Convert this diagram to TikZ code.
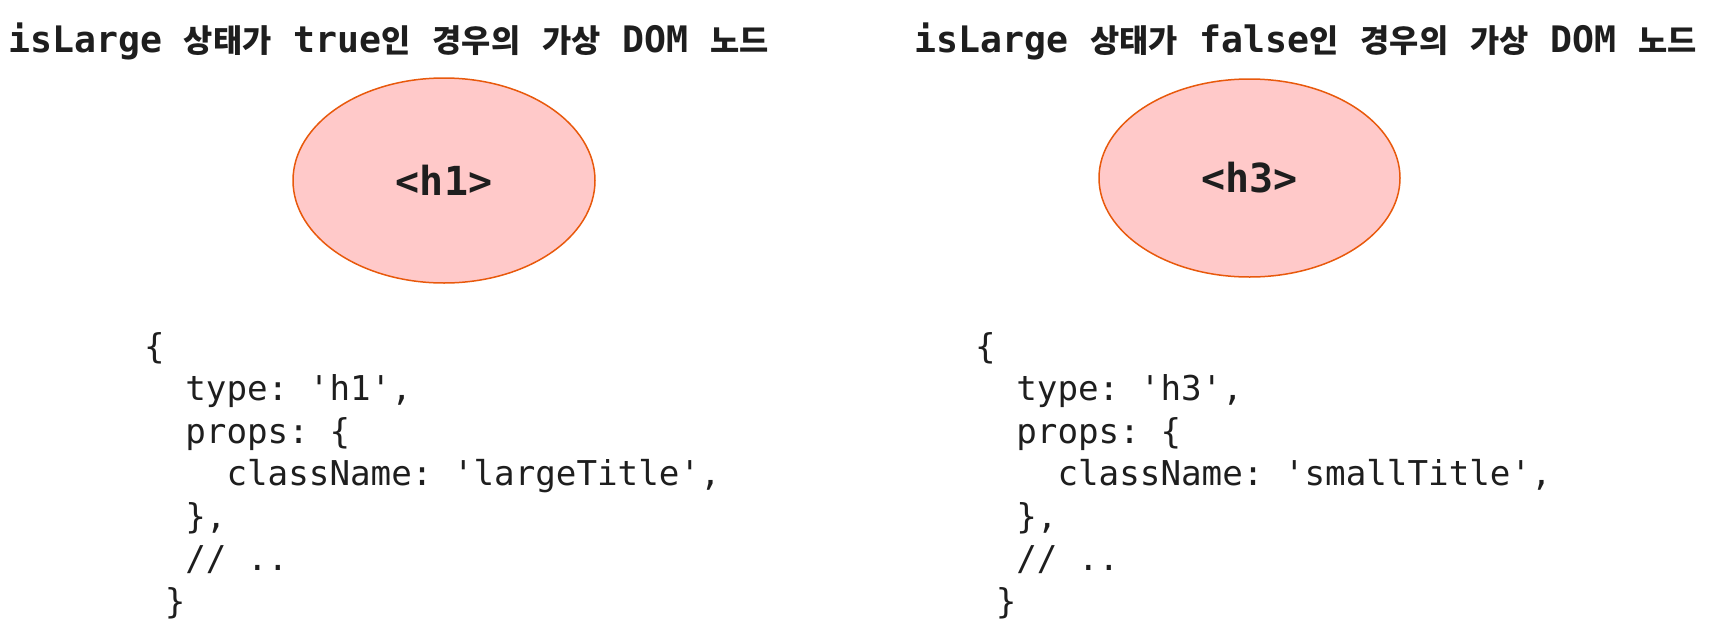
\documentclass[tikz,border=0pt]{standalone}
\usepackage{fontspec}
\setmonofont{DejaVu Sans Mono}
\newfontfamily\kr{Noto Sans CJK KR}[Scale=0.87]
\usetikzlibrary{shapes.geometric}
\definecolor{textc}{HTML}{1E1E1E}
\definecolor{strokeor}{HTML}{E8590C}
\definecolor{fillpink}{HTML}{FFC9C9}
\begin{document}
\begin{tikzpicture}[x=1pt,y=-1pt,
  titletext/.style={anchor=base west, inner sep=0pt, text=textc,
    font=\fontsize{36.5}{43}\selectfont\ttfamily\bfseries\frenchspacing},
  codetext/.style={anchor=base west, inner sep=0pt, text=textc,
    font=\fontsize{34.2}{41}\selectfont\ttfamily\frenchspacing},
  vnode/.style={ellipse, draw=strokeor, fill=fillpink, line width=1.5pt,
    inner sep=0pt, text=textc,
    font=\fontsize{40}{48}\selectfont\ttfamily\bfseries}]
\useasboundingbox (0,0) rectangle (1711,640);

% titles
\node[titletext] (tl) at (8,52) {isLarge {\kr 상태가} true{\kr 인} {\kr 경우의} {\kr 가상} DOM {\kr 노드}};
\node[titletext] (tr) at (914,52) {isLarge {\kr 상태가} false{\kr 인} {\kr 경우의} {\kr 가상} DOM {\kr 노드}};

% virtual DOM nodes
\node[vnode, minimum width=302pt, minimum height=205pt] (h1) at (444,180.5) {<h1>};
\node[vnode, minimum width=301pt, minimum height=198pt] (h3) at (1249.5,178) {<h3>};

% left code block
\def\cw{20.59}
\node[codetext] (l1) at (144,358) {\{};
\node[codetext] (l2) at (144+2*\cw,400.5) {type: 'h1',};
\node[codetext] (l3) at (144+2*\cw,443) {props: \{};
\node[codetext] (l4) at (144+4*\cw,485.5) {className: 'largeTitle',};
\node[codetext] (l5) at (144+2*\cw,528) {\},};
\node[codetext] (l6) at (144+2*\cw,570.5) {// ..};
\node[codetext] (l7) at (144+1*\cw,613) {\}};

% right code block
\node[codetext] (r1) at (975,358) {\{};
\node[codetext] (r2) at (975+2*\cw,400.5) {type: 'h3',};
\node[codetext] (r3) at (975+2*\cw,443) {props: \{};
\node[codetext] (r4) at (975+4*\cw,485.5) {className: 'smallTitle',};
\node[codetext] (r5) at (975+2*\cw,528) {\},};
\node[codetext] (r6) at (975+2*\cw,570.5) {// ..};
\node[codetext] (r7) at (975+1*\cw,613) {\}};
\end{tikzpicture}
\end{document}
